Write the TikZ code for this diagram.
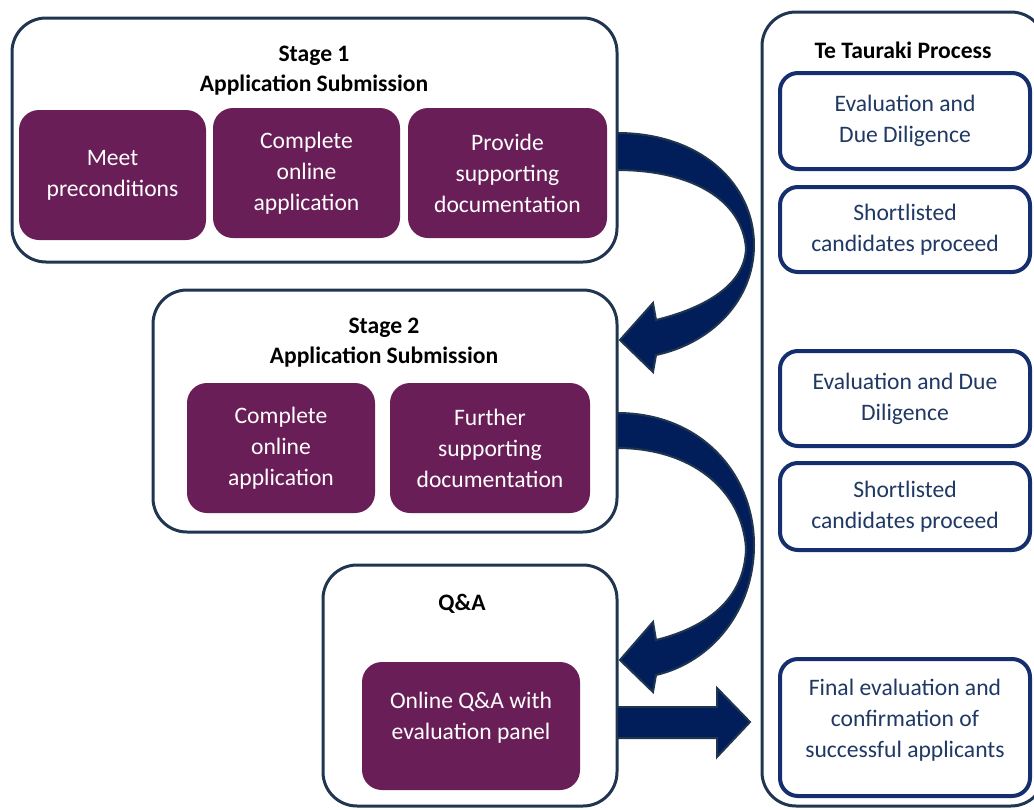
\documentclass[tikz,border=0pt]{standalone}
\usepackage{fontspec}
\setmainfont{Carlito}
\usetikzlibrary{positioning}
\definecolor{plum}{HTML}{6A1E57}
\definecolor{slate}{HTML}{1F3550}
\definecolor{navy}{HTML}{021E5A}
\definecolor{inkblue}{HTML}{1F3864}
\definecolor{rimblue}{HTML}{142E6E}

\begin{document}
\begin{tikzpicture}[x=1pt, y=-1pt, font=\fontsize{23.6}{31}\selectfont,
  stagebox/.style={draw=slate, line width=3pt, rounded corners=34pt, fill=white, inner sep=0pt},
  taskbox/.style={fill=plum, text=white, rounded corners=20pt, align=center, inner sep=0pt, minimum height=130pt},
  checkbox/.style={draw=rimblue, line width=4pt, rounded corners=18pt, fill=white, text=inkblue, align=center, inner sep=0pt, minimum width=250pt},
  headtxt/.style={font=\fontsize{23.6}{30}\selectfont\bfseries, align=center},
  blockarrow/.style={fill=navy, draw=slate, line width=2pt, line join=miter}
]
  \useasboundingbox (0,0) rectangle (1034,809);
  % stage frames
  \node[stagebox, minimum width=605pt, minimum height=244pt] (s1) at (314.5,140) {};
  \node[stagebox, minimum width=464pt, minimum height=242pt] (s2) at (385,411) {};
  \node[stagebox, minimum width=294pt, minimum height=241pt] (s3) at (470,685.5) {};
  \node[stagebox, minimum width=283pt, minimum height=794pt] (tt) at (903.5,409) {};

  \node[headtxt] (h1) at (314,71)  {Stage 1\\Application Submission};
  \node[headtxt] (h2) at (384,343) {Stage 2\\Application Submission};
  \node[headtxt] (h3) at (462,604) {Q\&A};
  \node[headtxt] (h4) at (903,50)  {Te Tauraki Process};

  % purple tasks
  \node[taskbox, minimum width=187pt] (p1) at (112.5,175) {Meet\\preconditions};
  \node[taskbox, minimum width=187pt] (p2) at (306.5,173) {Complete\\online\\application};
  \node[taskbox, minimum width=199pt] (p3) at (507.5,173) {Provide\\supporting\\documentation};
  \node[taskbox, minimum width=188pt] (q1) at (281,448)   {Complete\\online\\application};
  \node[taskbox, minimum width=200pt] (q2) at (490,448)   {Further\\supporting\\documentation};
  \node[taskbox, minimum width=218pt, minimum height=128pt] (qa) at (471,726) {};
  \node[text=white, align=center] (qat) at (471,718) {Online Q\&A with\\evaluation panel};

  % Te Tauraki checks
  \node[checkbox, minimum height=96pt]  (c1) at (905,121)   {Evaluation and\\Due Diligence};
  \node[checkbox, minimum height=85pt]  (c2) at (905,229.5) {Shortlisted\\candidates proceed};
  \node[checkbox, minimum height=95pt]  (c3) at (905,398.5) {Evaluation and Due\\Diligence};
  \node[checkbox, minimum height=87pt]  (c4) at (905,506.5) {Shortlisted\\candidates proceed};
  \node[checkbox, minimum height=137pt] (c5) at (905,727.5) {};
  \node[text=inkblue, align=center] (c5t) at (905,720) {Final evaluation and\\confirmation of\\successful applicants};

  % block arrows
  \filldraw[blockarrow] (617,133) .. controls (702,133) and (754,185) .. (754,245)
    .. controls (754,300) and (712,343) .. (656,355) -- (653,372) -- (620,340) -- (653,303) -- (656,320)
    .. controls (705,308) and (745,285) .. (746,248) .. controls (742,200) and (692,170) .. (617,170) -- cycle;
  \filldraw[blockarrow] (617,413) .. controls (702,413) and (754,475) .. (754,545)
    .. controls (754,610) and (712,662) .. (656,675) -- (653,692) -- (620,660) -- (653,622) -- (656,640)
    .. controls (705,628) and (745,600) .. (746,548) .. controls (742,490) and (692,448) .. (617,448) -- cycle;
  \filldraw[blockarrow] (617,707) -- (717,707) -- (717,688) -- (750,722) -- (717,757) -- (717,738) -- (617,738) -- cycle;
\end{tikzpicture}
\end{document}
